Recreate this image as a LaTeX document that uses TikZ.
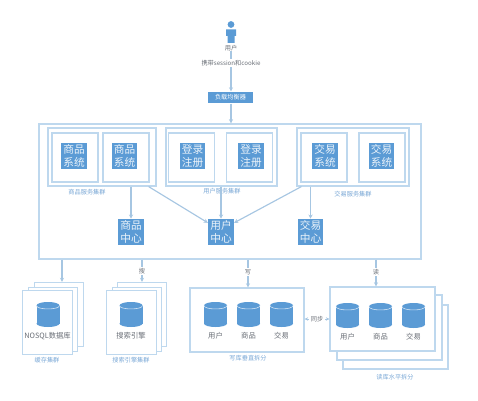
\documentclass[tikz,border=0pt]{standalone}
\usepackage{fontspec}
\setmainfont{Noto Sans CJK SC}
\usepackage{xcolor}
\usetikzlibrary{arrows.meta, positioning}
\definecolor{boxblue}{RGB}{91,155,213}
\definecolor{edgeblue}{RGB}{190,216,238}
\definecolor{lineblue}{RGB}{166,198,226}
\definecolor{capblue}{RGB}{122,168,214}
\definecolor{textgray}{RGB}{105,110,118}
\tikzset{
  mainbox/.style={rectangle, draw=edgeblue, line width=0.8pt, fill=white, inner sep=0pt},
  grp/.style={mainbox, minimum height=1.45cm},
  sysbox/.style={mainbox, minimum width=1.15cm, minimum height=1.225cm},
  svc/.style={rectangle, fill=boxblue, text=white!88!boxblue, align=center,
    minimum width=0.64cm, minimum height=0.65cm, inner sep=0pt,
    font=\fontsize{7.6}{9.4}\selectfont},
  stk/.style={mainbox, minimum width=1.235cm, minimum height=1.6cm},
  dbcyl/.pic={
    \fill[boxblue] (-11.5,-9) rectangle (11.5,9);
    \fill[boxblue] (0,-9) ellipse (11.5 and 3.5);
    \fill[boxblue] (0,9) ellipse (11.5 and 3.5);
    \draw[white!75!boxblue, line width=0.4pt] (-11.5,-9) .. controls (-11.5,-4.4) and (11.5,-4.4) .. (11.5,-9);
  },
  captxt/.style={text=capblue, font=\fontsize{4.4}{5}\selectfont, inner sep=0pt},
  dbtxt/.style={text=textgray, font=\fontsize{5.2}{6}\selectfont, inner sep=0pt},
  tagtxt/.style={text=textgray, fill=white, font=\fontsize{4.4}{5}\selectfont, inner sep=1pt},
  arr/.style={->, >={Stealth[length=3pt,width=3pt]}, line width=0.8pt, draw=lineblue},
  arrB/.style={<->, >={Stealth[length=2.5pt,width=2.5pt]}, line width=0.6pt, draw=lineblue},
}
\begin{document}
\begin{tikzpicture}[x=0.025cm, y=-0.025cm]
  \useasboundingbox (0,0) rectangle (478,400);

  % -- User on top --
  \fill[boxblue] (231,24.5) circle (3.4);
  \fill[boxblue] (226,29.5) -- (236,29.5) -- (236,36) -- (234.5,36) -- (234.5,43) -- (227.5,43)
       -- (227.5,36) -- (226,36) -- cycle;
  \node[dbtxt, font=\fontsize{4.4}{5}\selectfont] (user) at (231,48) {用户};
  \node[mainbox, draw=none, fill=boxblue, text=white, minimum width=1.125cm,
       minimum height=0.275cm, font=\fontsize{4.4}{5}\selectfont] (lb) at (230.5,97.5) {负载均衡器};
  \node[mainbox, minimum width=9.55cm, minimum height=3.375cm] (main) at (230,191.5) {};
  \draw[arr] (user) -- (lb.north -| user);
  \node[tagtxt] (carry) at (231,63) {携带session和cookie};
  \draw[arr] (lb.south -| user) -- (main.north -| user);

  % -- Service clusters --
  \node[grp, minimum width=2.7cm] (grpgoods) at (102,157) {};
  \node[grp, minimum width=2.775cm] (grpuser) at (221.5,157) {};
  \node[grp, minimum width=2.8cm] (grptrade) at (353,157) {};

  \node[sysbox] (boxa) at (75,157.5) {};
  \node[sysbox] (boxb) at (126,157.5) {};
  \node[sysbox] (boxc) at (191.5,157.5) {};
  \node[sysbox] (boxd) at (249.5,157.5) {};
  \node[sysbox] (boxe) at (324,157.5) {};
  \node[sysbox] (boxf) at (382,157.5) {};

  \node[svc] (sysa) at (74,156) {商品\\系统};
  \node[svc] (sysb) at (124.5,156) {商品\\系统};
  \node[svc] (sysc) at (192.5,156) {登录\\注册};
  \node[svc] (sysd) at (251,156) {登录\\注册};
  \node[svc] (syse) at (325,156) {交易\\系统};
  \node[svc] (sysf) at (381.5,156) {交易\\系统};

  \node[captxt] (capgoods) at (87,192) {商品服务集群};
  \node[captxt] (capuser) at (222,191) {用户服务集群};
  \node[captxt] (captrade) at (353,194) {交易服务集群};

  % -- Centers --
  \node[svc] (cgoods) at (131,232) {商品\\中心};
  \node[svc] (cuser) at (221,232) {用户\\中心};
  \node[svc] (ctrade) at (310.5,232) {交易\\中心};

  \draw[arr] (grpgoods.south -| cgoods) -- (cgoods);
  \draw[arr] (grpuser.south -| cuser) -- (cuser);
  \draw[arr] (grptrade.south -| ctrade) -- (ctrade);
  \draw[arr] ([xshift=-0.2cm]grpgoods.south east) -- (cuser.145);
  \draw[arr] ([xshift=0.125cm]grptrade.south west) -- (cuser.35);

  % -- Cache cluster --
  \node[stk] (cacheC) at (59,314.5) {};
  \node[stk] (cacheB) at (53,319.5) {};
  \node[stk] (cacheA) at (47.5,322.5) {};
  \pic at (48,314.5) {dbcyl};
  \node[dbtxt] (txtcache) at (47.5,336) {NOSQL数据库};
  \node[captxt] (capcache) at (47,360) {缓存集群};

  % -- Search cluster --
  \node[stk] (srchC) at (142,314.5) {};
  \node[stk] (srchB) at (137,319.5) {};
  \node[stk] (srchA) at (131.5,322.5) {};
  \pic at (131,314.5) {dbcyl};
  \node[dbtxt] (txtsrch) at (131,336) {搜索引擎};
  \node[captxt] (capsrch) at (131,360) {搜索引擎集群};

  % -- Write library --
  \node[mainbox, minimum width=2.85cm, minimum height=1.6cm] (wr) at (247,320) {};
  \pic at (215.5,314.5) {dbcyl};
  \pic at (248.5,314.5) {dbcyl};
  \pic at (281.5,314.5) {dbcyl};
  \node[dbtxt] (wra1) at (215.5,336) {用户};
  \node[dbtxt] (wrb1) at (248.5,336) {商品};
  \node[dbtxt] (wrc1) at (281.5,336) {交易};
  \node[captxt] (capwr) at (248,358) {写库垂直拆分};

  % -- Read library --
  \node[mainbox, minimum width=2.625cm, minimum height=1.6cm] (rdC) at (395.5,337) {};
  \node[mainbox, minimum width=2.625cm, minimum height=1.625cm] (rdB) at (389.5,327.5) {};
  \node[mainbox, minimum width=2.625cm, minimum height=1.6cm] (rdA) at (382.5,319) {};
  \pic at (347.5,315.5) {dbcyl};
  \pic at (380.5,315.5) {dbcyl};
  \pic at (413.5,315.5) {dbcyl};
  \node[dbtxt] (rda1) at (347.5,337) {用户};
  \node[dbtxt] (rdb1) at (380.5,337) {商品};
  \node[dbtxt] (rdc1) at (413.5,337) {交易};
  \node[captxt] (caprd) at (395,377) {读库水平拆分};

  % Connecting arrows
  \draw[arr] (main.south -| 62,0) -- (cacheC.north -| 62,0);
  \draw[arr] (main.south -| srchC) -- (srchC.north);
  \draw[arr] (main.south -| 248,0) -- (wr.north -| 248,0);
  \draw[arr] (main.south -| 376,0) -- (rdA.north -| 376,0);
  \node[tagtxt] (tagsrch) at (142,271) {搜};
  \node[tagtxt] (tagwr) at (248,272) {写};
  \node[tagtxt] (tagrd) at (376,272) {读};
  \draw[arrB] (wr.east |- 0,319) -- (rdA.west |- 0,319);
  \node[tagtxt] (tagsync) at (317,319) {同步};
\end{tikzpicture}
\end{document}
